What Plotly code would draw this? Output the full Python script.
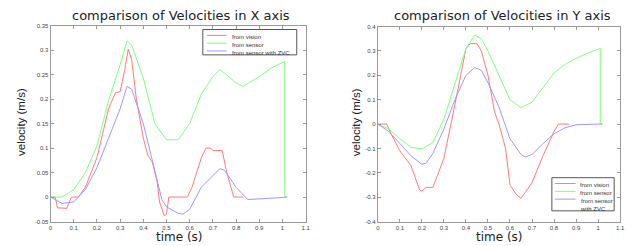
import plotly.graph_objects as go

# ---- X axis velocities ----
x_sensor_t = [0, 0.05, 0.1, 0.15, 0.2, 0.25, 0.3, 0.33, 0.35, 0.4, 0.45, 0.5, 0.55, 0.6, 0.65, 0.7, 0.73, 0.75, 0.8, 0.83, 0.9, 0.95, 1.01, 1.01, 1.02]
x_sensor_v = [0, 0.0, 0.015, 0.05, 0.104, 0.197, 0.27, 0.319, 0.31, 0.243, 0.15, 0.117, 0.117, 0.15, 0.21, 0.246, 0.26, 0.253, 0.233, 0.226, 0.246, 0.263, 0.277, 0.0, 0.0]

x_vision_t = [0, 0.02, 0.03, 0.07, 0.09, 0.12, 0.15, 0.2, 0.25, 0.28, 0.3, 0.32, 0.335, 0.35, 0.37, 0.4, 0.42, 0.44, 0.46, 0.47, 0.49, 0.5, 0.51, 0.59, 0.61, 0.65, 0.67, 0.69, 0.7, 0.74, 0.76, 0.79, 0.83]
x_vision_v = [0, 0, -0.022, -0.023, 0, 0, 0.02, 0.08, 0.18, 0.213, 0.215, 0.26, 0.302, 0.28, 0.2, 0.12, 0.085, 0.07, 0.03, -0.01, -0.038, -0.035, 0, 0, 0.02, 0.08, 0.1, 0.1, 0.095, 0.095, 0.05, 0, 0]

x_zvc_t = [0, 0.05, 0.1, 0.15, 0.2, 0.25, 0.3, 0.33, 0.35, 0.4, 0.45, 0.48, 0.5, 0.55, 0.57, 0.6, 0.65, 0.7, 0.73, 0.75, 0.8, 0.85, 0.9, 1.0, 1.02]
x_zvc_v = [0, -0.013, -0.01, 0.015, 0.06, 0.12, 0.18, 0.226, 0.22, 0.15, 0.05, -0.005, -0.02, -0.033, -0.035, -0.025, 0.02, 0.045, 0.058, 0.055, 0.02, -0.005, -0.004, -0.001, 0]

# ---- Y axis velocities ----
y_sensor_t = [0, 0.05, 0.1, 0.15, 0.2, 0.25, 0.3, 0.35, 0.4, 0.44, 0.47, 0.5, 0.55, 0.6, 0.65, 0.7, 0.75, 0.8, 0.85, 0.9, 0.95, 1.01, 1.01, 1.02]
y_sensor_v = [0, -0.02, -0.06, -0.095, -0.102, -0.075, 0.02, 0.17, 0.31, 0.365, 0.35, 0.3, 0.2, 0.1, 0.067, 0.09, 0.15, 0.21, 0.245, 0.27, 0.29, 0.31, 0.0, 0.0]

y_vision_t = [0, 0.04, 0.06, 0.1, 0.15, 0.19, 0.2, 0.22, 0.25, 0.3, 0.35, 0.4, 0.42, 0.45, 0.47, 0.5, 0.53, 0.55, 0.58, 0.6, 0.63, 0.65, 0.67, 0.7, 0.75, 0.8, 0.82, 0.87]
y_vision_v = [0, 0, -0.04, -0.11, -0.17, -0.27, -0.275, -0.26, -0.26, -0.14, 0.08, 0.31, 0.33, 0.33, 0.3, 0.2, 0.05, 0, -0.1, -0.25, -0.29, -0.305, -0.28, -0.24, -0.13, -0.03, 0, 0]

y_zvc_t = [0, 0.05, 0.1, 0.15, 0.2, 0.22, 0.25, 0.3, 0.35, 0.4, 0.44, 0.47, 0.5, 0.55, 0.6, 0.65, 0.67, 0.7, 0.75, 0.8, 0.85, 0.9, 1.0, 1.02]
y_zvc_v = [0, -0.03, -0.08, -0.13, -0.165, -0.16, -0.12, -0.02, 0.1, 0.2, 0.232, 0.22, 0.17, 0.07, -0.06, -0.125, -0.135, -0.125, -0.08, -0.04, -0.015, -0.003, 0, 0]

x_ticks = [0, 0.1, 0.2, 0.3, 0.4, 0.5, 0.6, 0.7, 0.8, 0.9, 1.0, 1.1]
x_tick_text = ["0", "0.1", "0.2", "0.3", "0.4", "0.5", "0.6", "0.7", "0.8", "0.9", "1", "1.1"]
left_yticks = [-0.05, 0, 0.05, 0.1, 0.15, 0.2, 0.25, 0.3, 0.35]
left_ytext = ["-0.05", "0", "0.05", "0.1", "0.15", "0.2", "0.25", "0.3", "0.35"]
right_yticks = [-0.4, -0.3, -0.2, -0.1, 0, 0.1, 0.2, 0.3, 0.4]
right_ytext = ["-0.4", "-0.3", "-0.2", "-0.1", "0", "0.1", "0.2", "0.3", "0.4"]

left_legend_labels = ["from vision", "from sensor", "from sensor with ZVC"]
right_legend_labels = ["from vision", "from sensor", "from sensor<br>with ZVC"]

RED = "#ff7a7a"
GREEN = "#7dff7d"
BLUE = "#a096ff"
COLORS = [RED, GREEN, BLUE]
FONT = "Liberation Sans, Arial, sans-serif"
TFONT = "DejaVu Sans, Liberation Sans, sans-serif"

# page body has an 8px margin: size the figure so it fills the window exactly
OFF = 8
W, H = 634 - OFF, 246 - OFF

fig = go.Figure()
lw = 1
for t, v, c, n in [(x_vision_t, x_vision_v, RED, left_legend_labels[0]),
                   (x_sensor_t, x_sensor_v, GREEN, left_legend_labels[1]),
                   (x_zvc_t, x_zvc_v, BLUE, left_legend_labels[2])]:
    fig.add_trace(go.Scatter(x=t, y=v, mode="lines", line=dict(color=c, width=lw), name=n,
                             xaxis="x", yaxis="y", showlegend=False))
for t, v, c, n in [(y_vision_t, y_vision_v, RED, right_legend_labels[0]),
                   (y_sensor_t, y_sensor_v, GREEN, right_legend_labels[1]),
                   (y_zvc_t, y_zvc_v, BLUE, right_legend_labels[2])]:
    fig.add_trace(go.Scatter(x=t, y=v, mode="lines", line=dict(color=c, width=lw), name=n,
                             xaxis="x2", yaxis="y2", showlegend=False))

def px(xp):
    return (xp - OFF) / W

def py(yp):
    return 1 - (yp - OFF) / H

axis_common = dict(showgrid=False, zeroline=False, showline=True, linecolor="#999999", linewidth=1,
                   mirror="ticks", ticks="inside", ticklen=3, tickcolor="#999999",
                   tickfont=dict(size=6, color="#444444", family=FONT))

fig.update_layout(
    width=W, height=H,
    margin=dict(l=0, r=0, t=0, b=0),
    paper_bgcolor="white", plot_bgcolor="white",
    font=dict(family=FONT),
    xaxis=dict(domain=[px(49), px(307)], range=[0, 1.1], tickvals=x_ticks, ticktext=x_tick_text, anchor="y", **axis_common),
    yaxis=dict(domain=[py(224), py(23)], range=[-0.05, 0.35], tickvals=left_yticks, ticktext=left_ytext, anchor="x", **axis_common),
    xaxis2=dict(domain=[px(380), px(625)], range=[0, 1.1], tickvals=x_ticks, ticktext=x_tick_text, anchor="y2", **axis_common),
    yaxis2=dict(domain=[py(224), py(24)], range=[-0.4, 0.4], tickvals=right_yticks, ticktext=right_ytext, anchor="x2", **axis_common),
    showlegend=False,
)

annos = [
    dict(text="comparison of Velocities in X axis", x=px(181), y=py(13), size=13),
    dict(text="comparison of Velocities in Y axis", x=px(506), y=py(13), size=13),
]
for a in annos:
    fig.add_annotation(text=a["text"], x=a["x"], y=a["y"], xref="paper", yref="paper",
                       showarrow=False, xanchor="center", yanchor="middle",
                       font=dict(size=a["size"], color="#222222", family=TFONT))
for xx in [179, 503]:
    fig.add_annotation(text="time (s)", x=px(xx), y=py(239.5), xref="paper", yref="paper",
                       showarrow=False, xanchor="center", yanchor="middle", borderpad=0,
                       font=dict(size=12, color="#222222", family=TFONT))
for xx in [19, 358]:
    fig.add_annotation(text="velocity (m/s)", x=px(xx), y=py(122), xref="paper", yref="paper",
                       showarrow=False, xanchor="center", yanchor="middle", textangle=-90,
                       font=dict(size=11.5, color="#222222", family=FONT))

# ---- hand-drawn legends (compact, like the original) ----
def draw_legend(box, line_x0, line_x1, text_x, rows, labels):
    x0, y0, x1, y1 = box
    fig.add_shape(type="rect", xref="paper", yref="paper", x0=px(x0), x1=px(x1), y0=py(y1), y1=py(y0),
                  line=dict(color="#555555", width=1), fillcolor="white", layer="above")
    for ry, lab, col in zip(rows, labels, COLORS):
        fig.add_shape(type="line", xref="paper", yref="paper", x0=px(line_x0), x1=px(line_x1),
                      y0=py(ry), y1=py(ry), line=dict(color=col, width=1), layer="above")
        fig.add_annotation(text=lab, x=px(text_x), y=py(ry - 3.5), xref="paper", yref="paper",
                           showarrow=False, xanchor="left", yanchor="top", align="left",
                           font=dict(size=6, color="#333333", family=FONT))

draw_legend((203, 27, 298, 53), 207, 227, 230, [33, 41, 49], left_legend_labels)
draw_legend((556, 179, 619, 213), 559, 580, 582, [185, 193, 201], right_legend_labels)

fig.write_html("out.html")
